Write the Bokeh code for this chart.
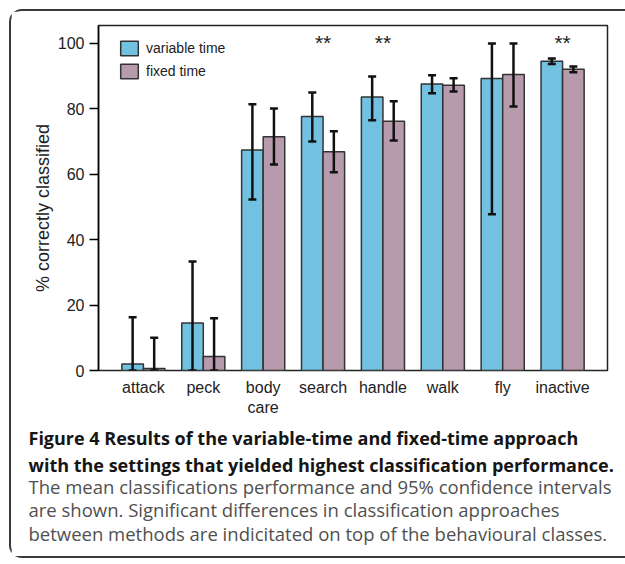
from bokeh.plotting import figure
from bokeh.models import (ColumnDataSource, Whisker, Title, FactorRange,
                          Range1d, Legend, LegendItem, TeeHead, FixedTicker)
from bokeh.transform import dodge
from bokeh.embed import file_html
from bokeh.resources import INLINE
from bokeh.core.properties import value

categories = ["attack", "peck", "body\ncare", "search", "handle", "walk", "fly", "inactive"]
variable_mean = [2.0, 14.5, 67.4, 77.7, 83.6, 87.6, 89.3, 94.6]
variable_lower = [0.0, 0.0, 52.3, 70.0, 76.5, 84.8, 47.8, 93.7]
variable_upper = [16.3, 33.3, 81.4, 85.0, 89.9, 90.3, 100.0, 95.4]
fixed_mean = [0.6, 4.3, 71.5, 66.9, 76.2, 87.2, 90.5, 92.1]
fixed_lower = [0.0, 0.0, 63.0, 60.6, 70.3, 85.3, 80.7, 91.2]
fixed_upper = [10.0, 16.0, 80.1, 73.2, 82.3, 89.4, 100.0, 93.0]
significant = ["search", "handle", "inactive"]
significant_y = [100.3, 100.3, 100.3]
y_ticks = [0, 20, 40, 60, 80, 100]
series_names = ["variable time", "fixed time"]
caption_bold = ["Figure 4 Results of the variable-time and fixed-time approach",
                "with the settings that yielded highest classification performance."]
caption_regular = ["The mean classifications performance and 95% confidence intervals",
                   "are shown. Significant differences in classification approaches",
                   "between methods are indicitated on top of the behavioural classes."]

BLUE = "#73C1E0"
PURPLE = "#B79AAC"

src = ColumnDataSource(dict(cat=categories, vm=variable_mean, vl=variable_lower, vu=variable_upper,
                            fm=fixed_mean, fl=fixed_lower, fu=fixed_upper))

# figure placed inside a CSS frame (margin 9px + 2px border) -> frame left at 98, top at 25
p = figure(x_range=FactorRange(*categories, range_padding=0.25, range_padding_units="absolute"),
           y_range=Range1d(0, 105.5),
           frame_width=509, frame_height=345,
           min_border_left=87, min_border_top=14, min_border_right=18, min_border_bottom=186,
           output_backend="svg", toolbar_location=None)
p.styles = {"margin-left": "9px", "margin-top": "9px",
            "border-left": "2px solid #3a3a3a", "border-top": "2px solid #3a3a3a",
            "border-bottom": "2px solid #3a3a3a",
            "border-top-left-radius": "13px", "border-bottom-left-radius": "13px"}

p.xgrid.visible = False
p.ygrid.visible = False
p.outline_line_color = "#222222"
p.outline_line_width = 1.5

W = 0.36
r1 = p.vbar(x=dodge("cat", -0.18, range=p.x_range), top="vm", width=W, source=src,
            fill_color=BLUE, line_color="#333333", line_width=1.5)
r2 = p.vbar(x=dodge("cat", 0.18, range=p.x_range), top="fm", width=W, source=src,
            fill_color=PURPLE, line_color="#333333", line_width=1.5)

for off, lo, up in [(-0.18, "vl", "vu"), (0.18, "fl", "fu")]:
    w = Whisker(base=dodge("cat", off, range=p.x_range), lower=lo, upper=up, source=src,
                line_color="#111111", line_width=2.5, level="overlay",
                upper_head=TeeHead(size=8, line_width=2.5, line_color="#111111"),
                lower_head=TeeHead(size=8, line_width=2.5, line_color="#111111"))
    p.add_layout(w)

p.text(x=significant, y=significant_y, text=["**"] * len(significant),
       text_align="center", text_baseline="middle", text_font=value("Liberation Sans"),
       text_font_size="21px", text_color="#222222")

legend = Legend(items=[LegendItem(label=series_names[0], renderers=[r1]),
                       LegendItem(label=series_names[1], renderers=[r2])],
                location=(20, 290), margin=0, padding=0, spacing=5,
                glyph_width=22, glyph_height=18, label_height=18,
                label_text_font="Liberation Sans", label_text_font_size="14px",
                label_text_color="#222222", label_standoff=6,
                border_line_color=None, background_fill_alpha=0)
p.add_layout(legend)

p.yaxis.ticker = FixedTicker(ticks=y_ticks)
p.yaxis.minor_tick_line_color = None
p.yaxis.major_tick_in = 0
p.yaxis.major_tick_out = 9
p.yaxis.major_tick_line_width = 1.5
p.yaxis.axis_line_width = 1.5
p.yaxis.major_label_text_font = "Liberation Sans"
p.yaxis.major_label_text_font_size = "16px"
p.yaxis.major_label_text_color = "#222222"
p.yaxis.major_label_standoff = 5
p.yaxis.axis_label = "% correctly classified" + "\u00a0" * 4
p.yaxis.axis_label_text_font = "Liberation Sans"
p.yaxis.axis_label_text_font_size = "18px"
p.yaxis.axis_label_text_font_style = "normal"
p.yaxis.axis_label_text_color = "#222222"
p.yaxis.axis_label_standoff = 2

p.xaxis.major_tick_line_color = None
p.xaxis.axis_line_color = None
p.xaxis.major_label_text_font = "Liberation Sans"
p.xaxis.major_label_text_font_size = "16px"
p.xaxis.major_label_text_color = "#222222"
p.xaxis.major_label_standoff = 2

caption_standoffs = [10, -7, -4, -3, -3]
for i, t in enumerate(caption_bold + caption_regular):
    bold = i < 2
    p.add_layout(Title(text=t, align="left", offset=-70,
                       text_font="Open Sans", text_font_size="18px" if bold else "18.5px",
                       text_font_style="bold" if bold else "normal",
                       text_color="#151515" if bold else "#505050",
                       standoff=caption_standoffs[i]), "below")

open("out.html", "w").write(file_html(p, INLINE))
